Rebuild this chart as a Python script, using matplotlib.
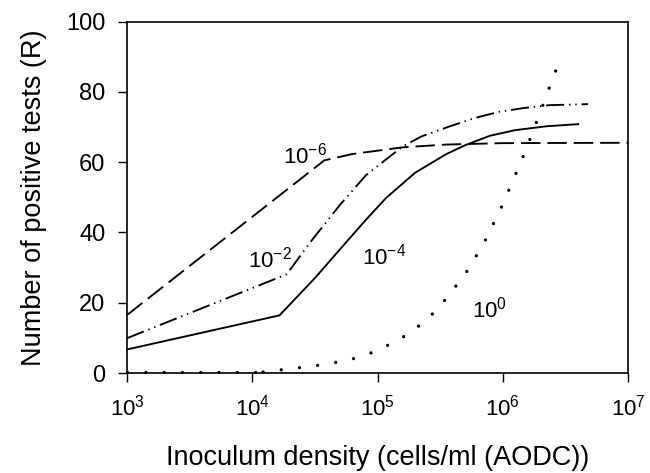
import matplotlib
matplotlib.use("Agg")
import matplotlib.pyplot as plt
import numpy as np

plt.rcParams['font.family'] = ['Liberation Sans', 'DejaVu Sans']
plt.rcParams['mathtext.fontset'] = 'custom'
plt.rcParams['mathtext.rm'] = 'Liberation Sans'
plt.rcParams['mathtext.it'] = 'Liberation Sans:italic'
plt.rcParams['mathtext.bf'] = 'Liberation Sans:bold'
plt.rcParams['mathtext.default'] = 'regular'
plt.rcParams['lines.scale_dashes'] = False

# ---- data ----
# dilution 10^-6 (dashed)
r6_x = [1e3, 3.76e4, 6.3e4, 1.58e5, 3.55e5, 1e6, 1e7]
r6_y = [16.5, 60.5, 62.3, 64.2, 65.0, 65.4, 65.5]

# dilution 10^-2 (dash-dot-dot)
r2_x = [1e3, 1.86e4, 1.95e4, 2.86e4, 5.0e4, 8.1e4, 1.58e5, 2.24e5, 3.72e5,
        5.9e5, 9.3e5, 1.48e6, 2.34e6, 4.8e6]
r2_y = [9.9, 28.0, 28.8, 36.9, 47.8, 56.3, 64.4, 67.3, 70.1,
        72.5, 74.3, 75.4, 76.2, 76.5]

# dilution 10^-4 (solid)
r4_x = [1e3, 1.65e4, 3.16e4, 5.25e4, 7.9e4, 1.17e5, 1.43e5, 2.0e5, 3.55e5,
        5.0e5, 7.9e5, 1.26e6, 2.24e6, 4.0e6]
r4_y = [6.7, 16.4, 27.0, 36.0, 43.2, 49.8, 52.5, 57.0, 62.3,
        64.8, 67.5, 69.1, 70.2, 70.8]

# dilution 10^0 (dotted)
r0_x = [1e3, 1.22e4, 2e4, 3e4, 5e4, 7e4, 1e5, 1.5e5, 2e5, 3e5, 5e5, 7e5,
        1e6, 1.5e6, 2e6, 2.5e6, 2.9e6]
r0_y = [0.3, 0.3, 1.2, 1.9, 3.2, 4.4, 6.4, 9.6, 12.5, 18.0, 28.1, 36.6,
        48.0, 62.7, 74.3, 83.7, 89.6]

labels = ['$10^{-6}$', '$10^{-2}$', '$10^{-4}$', '$10^{0}$']
label_x = [10**4.243, 10**3.964, 10**4.88, 10**5.753]
label_y = [59.6, 29.9, 30.9, 15.7]

x_ticks = [1e3, 1e4, 1e5, 1e6, 1e7]
y_ticks = [0, 20, 40, 60, 80, 100]

# ---- figure ----
fig = plt.figure(figsize=(6.5, 4.73), dpi=100)
ax = fig.add_axes([0.1954, 0.2114, 0.9662 - 0.1954, 0.9545 - 0.2114])

lw = 1.35
ax.plot(r6_x, r6_y, color='black', lw=lw, dashes=(14, 5), dash_capstyle='butt')
ax.plot(r2_x, r2_y, color='black', lw=lw,
        dashes=(13, 3.5, 1.0, 3.5, 1.0, 3.5), dash_capstyle='butt')
ax.plot(r4_x, r4_y, color='black', lw=lw, solid_joinstyle='round')
for seg in (slice(0, 2), slice(1, None)):
    ax.plot(r0_x[seg], r0_y[seg], color='black', lw=2.4,
            dashes=(0.01, 13.17), dash_capstyle='round', clip_on=False)

for t, x, y in zip(labels, label_x, label_y):
    ax.text(x, y, t, fontsize=16, ha='left', va='baseline')

ax.set_xscale('log')
ax.set_xlim(1e3, 1e7)
ax.set_ylim(0, 100)
ax.set_xticks(x_ticks)
ax.set_yticks(y_ticks)
ax.minorticks_off()
ax.tick_params(axis='both', which='major', direction='out', length=6.5,
               width=1.0, pad=9)
ax.tick_params(axis='x', labelsize=16)
ax.tick_params(axis='y', labelsize=17)
for s in ax.spines.values():
    s.set_linewidth(1.2)

ax.set_xlabel('Inoculum density (cells/ml (AODC))', fontsize=19.5, labelpad=18)
ax.set_ylabel('Number of positive tests (R)', fontsize=19.5, labelpad=14)

fig.savefig('out.png', dpi=100)
